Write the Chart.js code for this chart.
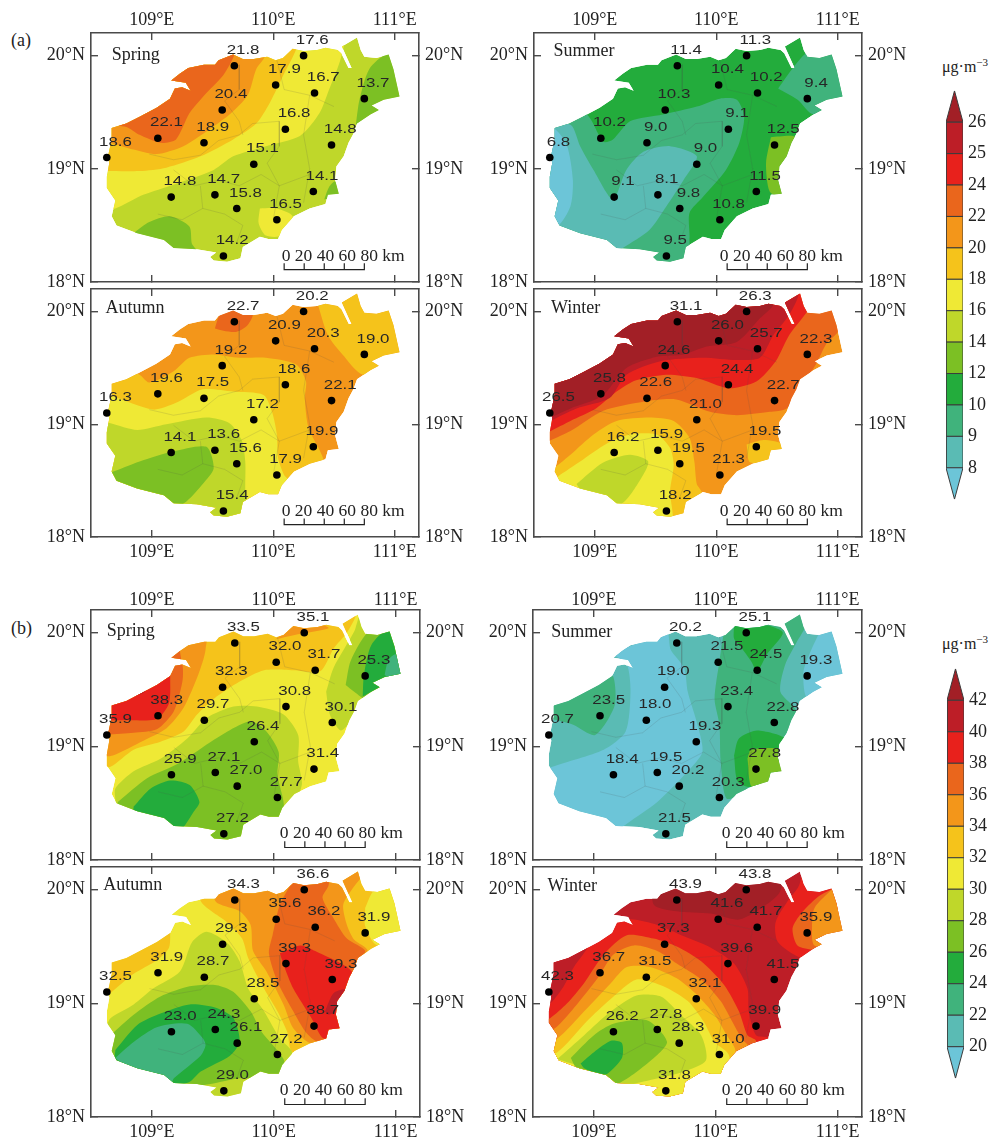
<!DOCTYPE html>
<html>
<head>
<meta charset="utf-8">
<title>Hainan seasonal concentration maps</title>
<script src="https://cdn.jsdelivr.net/npm/chart.js@4/dist/chart.umd.js"></script>
<style>
  html, body { margin: 0; padding: 0; background: #fff; }
  body { position: relative; width: 997px; height: 1142px; overflow: hidden; }
  canvas { position: absolute; }
  .note { position: absolute; font-family: "Liberation Serif", serif; color: #222; white-space: nowrap; }
  .note sup { font-size: 11px; line-height: 0; }
</style>
</head>
<body>
<div class="note" style="left:11px;top:30px;font-size:18px">(a)</div>
<div class="note" style="left:11px;top:618px;font-size:18px">(b)</div>
<div class="note" style="left:942px;top:58px;font-size:16px">μg·m<sup>−3</sup></div>
<div class="note" style="left:942px;top:635px;font-size:16px">μg·m<sup>−3</sup></div>
<script>
// band colours, low to high, same on both colour bars
const BAND_COLORS = ['#6CC5D8', '#5ABBB4', '#40B37C', '#23AC3C', '#7CC024', '#BFD72A', '#EFE935',
  '#F5C31B', '#F3961A', '#EA661C', '#E8211C', '#BD1E27', '#A21F26'];

const barLabelsA = ['8', '9', '10', '12', '14', '16', '18', '20', '22', '24', '25', '26'];
const barLabelsB = ['20', '22', '24', '26', '28', '30', '32', '34', '36', '38', '40', '42'];

const lonTicks = [109, 110, 111];
const latTicks = [18, 19, 20];
const scaleBarKm = [0, 20, 40, 60, 80];

// stations, same order in every value list
const stationLon = [109.68, 110.25, 110.02, 110.34, 110.75, 109.58, 110.10, 109.05, 109.43, 110.48, 108.63, 109.84, 109.16, 109.52, 109.70, 110.33, 110.03, 109.59];
const stationLat = [19.91, 20.00, 19.74, 19.67, 19.62, 19.52, 19.35, 19.27, 19.23, 19.21, 19.10, 19.04, 18.75, 18.77, 18.65, 18.80, 18.55, 18.23];

const valuesSpringA = ['21.8', '17.6', '17.9', '16.7', '13.7', '20.4', '16.8', '22.1', '18.9', '14.8', '18.6', '15.1', '14.8', '14.7', '15.8', '14.1', '16.5', '14.2'];
const valuesSummerA = ['11.4', '11.3', '10.4', '10.2', '9.4', '10.3', '9.1', '10.2', '9.0', '12.5', '6.8', '9.0', '9.1', '8.1', '9.8', '11.5', '10.8', '9.5'];
const valuesAutumnA = ['22.7', '20.2', '20.9', '20.3', '19.0', '19.2', '18.6', '19.6', '17.5', '22.1', '16.3', '17.2', '14.1', '13.6', '15.6', '19.9', '17.9', '15.4'];
const valuesWinterA = ['31.1', '26.3', '26.0', '25.7', '22.3', '24.6', '24.4', '25.8', '22.6', '22.7', '26.5', '21.0', '16.2', '15.9', '19.5', '19.5', '21.3', '18.2'];
const valuesSpringB = ['33.5', '35.1', '32.0', '31.7', '25.3', '32.3', '30.8', '38.3', '29.7', '30.1', '35.9', '26.4', '25.9', '27.1', '27.0', '31.4', '27.7', '27.2'];
const valuesSummerB = ['20.2', '25.1', '21.5', '24.5', '19.3', '19.0', '23.4', '23.5', '18.0', '22.8', '20.7', '19.3', '18.4', '19.5', '20.2', '27.8', '20.3', '21.5'];
const valuesAutumnB = ['34.3', '36.6', '35.6', '36.2', '31.9', '29.3', '39.3', '31.9', '28.7', '39.3', '32.5', '28.5', '23.0', '24.3', '26.1', '38.7', '27.2', '29.0'];
const valuesWinterB = ['43.9', '43.8', '41.6', '41.7', '35.9', '37.3', '39.6', '36.7', '31.5', '41.5', '42.3', '32.1', '26.2', '27.8', '28.3', '39.9', '31.0', '31.8'];

// coast of the island, lon/lat
const islandCoast = [[108.67,19.36],[108.79,19.40],[108.90,19.46],[109.04,19.54],[109.15,19.62],[109.19,19.71],[109.25,19.72],[109.32,19.69],[109.28,19.76],[109.16,19.78],[109.23,19.84],[109.30,19.89],[109.43,19.92],[109.52,19.92],[109.55,19.96],[109.67,20.01],[109.75,19.97],[109.84,19.97],[109.95,19.99],[110.02,19.96],[110.08,19.98],[110.16,20.06],[110.25,20.04],[110.36,20.05],[110.43,20.07],[110.53,20.05],[110.56,20.02],[110.62,19.89],[110.645,19.89],[110.59,20.02],[110.565,20.08],[110.69,20.16],[110.72,20.05],[110.75,19.99],[110.85,19.98],[110.95,20.01],[110.99,19.88],[111.04,19.64],[110.91,19.61],[110.81,19.56],[110.87,19.52],[110.80,19.48],[110.69,19.40],[110.66,19.31],[110.62,19.23],[110.58,19.11],[110.52,19.02],[110.51,18.90],[110.54,18.78],[110.45,18.77],[110.43,18.69],[110.30,18.65],[110.17,18.58],[110.07,18.46],[110.04,18.38],[109.96,18.38],[109.89,18.40],[109.75,18.31],[109.73,18.21],[109.62,18.18],[109.51,18.19],[109.48,18.22],[109.53,18.26],[109.37,18.29],[109.18,18.30],[109.10,18.37],[108.88,18.43],[108.71,18.50],[108.67,18.58],[108.70,18.72],[108.63,18.83],[108.63,18.93],[108.65,19.05],[108.64,19.11],[108.67,19.26]];

// faint county borders, same on every map
const countyLines = [
  [[108.98,19.13],[109.18,19.08],[109.40,19.12],[109.55,19.25],[109.72,19.30],[109.83,19.40],[110.05,19.42]],
  [[109.72,19.92],[109.72,19.70],[109.60,19.60],[109.72,19.42],[109.75,19.30]],
  [[110.03,19.96],[110.09,19.70],[110.30,19.65],[110.50,19.55]],
  [[109.18,18.99],[109.35,18.85],[109.55,18.90],[109.72,18.85],[109.90,18.95],[110.05,18.85],[110.30,18.95]],
  [[109.40,18.85],[109.42,18.65],[109.25,18.55],[109.05,18.60]],
  [[109.42,18.65],[109.60,18.60],[109.75,18.50],[109.70,18.35]],
  [[110.05,19.42],[110.05,19.20],[109.95,19.05],[110.05,18.85],[110.00,18.55]],
  [[110.30,19.65],[110.25,19.30],[110.30,19.00],[110.25,18.70]]
];

// contour regions: [band index, outline], painted in this order over the base band
const contoursSpringA = [
  [6, [[108.57,18.65],[108.70,18.65],[108.93,18.77],[109.18,18.86],[109.51,18.99],[109.67,19.11],[109.94,19.20],[110.22,19.29],[110.38,19.49],[110.46,19.70],[110.56,19.99],[110.57,20.20],[108.57,20.20]]],
  [7, [[108.57,18.98],[108.90,18.98],[109.12,19.01],[109.40,19.11],[109.67,19.26],[109.86,19.40],[109.97,19.58],[110.08,19.82],[110.19,20.06],[110.20,20.20],[108.57,20.20]]],
  [8, [[108.57,19.26],[108.85,19.17],[109.04,19.13],[109.26,19.20],[109.45,19.33],[109.64,19.48],[109.79,19.65],[109.86,19.88],[109.94,20.01],[109.94,20.20],[108.57,20.20]]],
  [9, [[108.57,19.39],[108.79,19.37],[108.90,19.30],[109.07,19.23],[109.20,19.26],[109.31,19.49],[109.45,19.67],[109.59,19.83],[109.68,20.01],[109.68,20.20],[108.57,20.20]]],
  [4, [[108.86,18.44],[108.98,18.53],[109.15,18.58],[109.31,18.49],[109.33,18.34],[109.37,18.27],[109.18,18.22],[108.85,18.34]]],
  [6, [[109.89,18.65],[110.03,18.65],[110.16,18.58],[110.07,18.41],[109.94,18.41],[109.88,18.52]]],
  [4, [[110.68,19.39],[110.71,19.61],[110.79,19.88],[110.94,20.02],[111.08,20.01],[111.08,19.61],[110.85,19.49]]],
  [4, [[110.42,18.73],[110.46,18.84],[110.51,18.89],[110.57,18.75]]]
];
const contoursSummerA = [
  [2, [[108.50,19.49],[108.92,19.49],[109.07,19.24],[109.15,19.26],[109.29,19.42],[109.56,19.48],[109.84,19.55],[110.03,19.62],[110.17,19.61],[110.23,19.46],[110.19,19.23],[110.08,18.99],[109.89,18.75],[109.78,18.61],[109.78,18.39],[109.75,18.14],[108.52,18.14]]],
  [1, [[108.52,19.40],[108.80,19.39],[108.88,19.20],[108.99,18.99],[109.15,18.73],[109.26,18.99],[109.40,19.15],[109.62,19.20],[109.84,19.11],[109.73,18.90],[109.59,18.67],[109.45,18.46],[109.23,18.30],[109.12,18.22],[108.52,18.22]]],
  [0, [[108.52,19.36],[108.66,19.36],[108.77,19.21],[108.82,18.90],[108.80,18.67],[108.69,18.49],[108.52,18.49]]],
  [2, [[110.51,19.71],[110.66,19.93],[110.77,20.04],[111.07,20.05],[111.07,19.58],[110.80,19.48],[110.67,19.61]]],
  [4, [[110.45,19.28],[110.65,19.28],[110.58,19.08],[110.55,18.75],[110.44,18.80],[110.41,19.05]]]
];
const contoursAutumnA = [
  [7, [[108.57,19.37],[108.67,19.37],[108.88,19.45],[108.98,19.37],[109.18,19.47],[109.31,19.59],[109.51,19.62],[109.72,19.59],[109.94,19.59],[110.19,19.53],[110.27,19.38],[110.26,19.23],[110.29,18.97],[110.41,18.70],[110.49,18.17],[108.57,18.11]]],
  [6, [[108.57,19.26],[108.67,19.25],[109.01,19.13],[109.20,19.19],[109.42,19.31],[109.67,19.29],[109.92,19.26],[109.99,19.11],[110.03,18.91],[110.04,18.70],[110.09,18.55],[110.15,18.47],[110.03,18.17],[108.57,18.11]]],
  [5, [[108.57,19.03],[108.66,19.01],[108.88,18.95],[109.12,19.00],[109.45,19.06],[109.64,19.01],[109.74,18.86],[109.77,18.67],[109.77,18.41],[109.79,18.11],[108.57,18.11]]],
  [4, [[108.66,18.57],[108.90,18.67],[109.18,18.76],[109.45,18.80],[109.51,18.61],[109.42,18.47],[109.29,18.32],[109.18,18.26],[108.85,18.34],[108.66,18.47]]],
  [9, [[109.52,19.85],[109.56,19.97],[109.67,20.03],[109.83,19.98],[109.79,19.88],[109.70,19.82],[109.59,19.83]]],
  [7, [[110.36,20.09],[110.45,19.79],[110.57,19.62],[110.74,19.44],[111.07,19.50],[111.07,20.18],[110.55,20.18]]]
];
const contoursWinterA = [
  [9, [[108.58,18.83],[108.80,18.94],[109.07,19.12],[109.40,19.20],[109.67,19.22],[109.95,19.11],[110.17,19.08],[110.44,19.11],[110.58,19.14],[110.69,19.32],[110.82,19.53],[110.91,19.72],[111.00,19.82],[111.07,20.20],[108.58,20.20]]],
  [10, [[108.58,18.91],[108.80,19.03],[109.01,19.14],[109.18,19.29],[109.34,19.39],[109.59,19.44],[109.84,19.41],[110.10,19.32],[110.33,19.38],[110.49,19.56],[110.60,19.79],[110.77,20.04],[110.77,20.20],[108.58,20.20]]],
  [11, [[108.58,19.00],[108.85,19.14],[109.12,19.23],[109.26,19.44],[109.54,19.56],[109.89,19.59],[110.17,19.57],[110.36,19.59],[110.47,19.79],[110.60,19.97],[110.67,20.12],[110.67,20.20],[108.58,20.20]]],
  [12, [[108.58,19.03],[108.80,19.14],[109.06,19.25],[109.26,19.50],[109.51,19.60],[109.73,19.62],[109.92,19.69],[110.17,19.73],[110.36,19.94],[110.47,20.06],[110.44,20.20],[108.58,20.20]]],
  [7, [[108.63,18.58],[108.80,18.73],[108.99,18.91],[109.18,19.03],[109.45,19.06],[109.65,19.03],[109.78,18.88],[109.82,18.67],[109.84,18.47],[109.88,18.39],[109.73,18.11],[108.63,18.11]]],
  [6, [[108.63,18.49],[108.70,18.54],[108.88,18.67],[109.10,18.83],[109.29,18.91],[109.51,18.91],[109.62,18.79],[109.65,18.64],[109.62,18.41],[109.62,18.11],[108.63,18.11]]],
  [5, [[108.85,18.47],[109.07,18.66],[109.29,18.73],[109.44,18.67],[109.37,18.50],[109.21,18.29],[108.93,18.35]]],
  [7, [[110.25,18.82],[110.39,18.86],[110.56,18.82],[110.56,18.70],[110.28,18.66]]]
];
const contoursSpringB = [
  [7, [[108.57,18.84],[108.66,18.82],[108.85,18.97],[109.07,19.04],[109.26,19.13],[109.37,19.28],[109.51,19.42],[109.72,19.57],[109.92,19.67],[110.16,19.67],[110.38,19.66],[110.49,19.86],[110.60,20.00],[110.67,20.14],[110.66,20.20],[108.57,20.20]]],
  [8, [[108.57,18.91],[108.68,18.92],[108.93,19.05],[109.12,19.16],[109.26,19.34],[109.38,19.63],[109.44,19.85],[109.44,20.20],[108.57,20.20]]],
  [9, [[108.57,19.10],[108.85,19.12],[109.04,19.15],[109.18,19.31],[109.25,19.57],[109.25,19.72],[109.12,20.20],[108.57,20.20]]],
  [10, [[108.57,19.23],[108.85,19.23],[109.04,19.24],[109.14,19.38],[109.15,19.61],[109.15,20.20],[108.57,20.20]]],
  [11, [[108.81,19.43],[108.93,19.47],[109.02,19.59],[108.90,19.54]]],
  [8, [[110.01,19.94],[110.16,20.06],[110.25,20.07],[110.40,20.07],[110.45,20.04],[110.22,19.99]]],
  [5, [[108.70,18.53],[108.70,18.63],[108.85,18.78],[109.07,18.89],[109.29,19.07],[109.45,19.25],[109.67,19.35],[109.86,19.35],[110.08,19.28],[110.20,19.10],[110.20,18.87],[110.23,18.66],[110.11,18.39],[109.67,18.13],[108.68,18.22]]],
  [4, [[108.72,18.51],[108.96,18.72],[109.20,18.84],[109.40,18.98],[109.62,19.13],[109.81,19.22],[109.94,19.13],[110.04,18.95],[110.03,18.75],[110.08,18.51],[110.07,18.37],[109.73,18.16],[109.40,18.13],[108.71,18.39]]],
  [3, [[108.85,18.47],[108.99,18.63],[109.15,18.70],[109.31,18.66],[109.39,18.51],[109.34,18.42],[109.25,18.28],[109.16,18.25],[108.85,18.37]]],
  [5, [[110.43,19.48],[110.49,19.69],[110.66,20.01],[110.73,20.19],[111.08,20.19],[111.08,19.63],[110.66,19.25],[110.55,19.14],[110.46,19.28]]],
  [4, [[110.59,19.54],[110.63,19.75],[110.77,20.00],[110.94,20.04],[111.08,19.63],[110.77,19.41],[110.66,19.48]]],
  [3, [[110.73,19.44],[110.74,19.63],[110.80,19.89],[110.94,20.03],[111.08,19.92],[111.08,19.66],[110.85,19.51]]],
  [2, [[110.91,19.63],[110.94,19.76],[111.00,19.81],[111.08,19.64],[110.96,19.59]]]
];
const contoursSummerB = [
  [0, [[109.14,19.82],[109.27,19.72],[109.30,19.48],[109.26,19.13],[109.08,18.97],[108.66,18.82],[108.53,18.75],[108.53,18.22],[109.16,18.25],[109.27,18.32],[109.52,18.51],[109.77,18.78],[109.89,18.95],[109.85,19.19],[109.77,19.48],[109.74,19.69],[109.63,19.85],[109.60,20.01],[109.46,19.95]]],
  [0, [[110.85,20.00],[110.97,20.04],[111.07,19.66],[110.83,19.48],[110.74,19.44],[110.72,19.66],[110.78,19.84]]],
  [2, [[108.62,19.25],[108.66,19.35],[108.81,19.44],[109.00,19.56],[109.15,19.63],[109.17,19.36],[109.01,19.10],[108.83,19.19]]],
  [2, [[110.07,20.03],[110.03,19.75],[109.99,19.42],[110.03,19.19],[110.04,18.87],[110.09,18.54],[110.26,18.63],[110.57,19.10],[110.66,19.31],[110.53,19.48],[110.57,19.72],[110.66,19.91],[110.74,20.07],[110.70,20.17],[110.57,20.10],[110.40,20.13],[110.15,20.07]]],
  [3, [[110.15,20.06],[110.40,20.07],[110.55,20.00],[110.42,19.81],[110.34,19.66],[110.29,19.75],[110.20,19.88],[110.15,19.95]]],
  [3, [[110.15,18.92],[110.19,19.07],[110.34,19.14],[110.57,19.07],[110.52,18.95],[110.51,18.78],[110.30,18.64],[110.18,18.69]]],
  [4, [[110.26,18.89],[110.29,18.97],[110.53,18.97],[110.55,18.78],[110.30,18.64]]]
];
const contoursAutumnB = [
  [7, [[108.60,19.04],[108.67,19.10],[108.85,19.26],[109.04,19.38],[109.14,19.49],[109.15,19.65],[109.15,19.78],[108.60,19.78]]],
  [7, [[109.40,20.19],[109.40,19.90],[109.62,19.71],[109.74,19.57],[109.79,19.40],[109.92,19.13],[110.03,18.93],[110.11,18.75],[110.16,18.57],[111.12,18.57],[111.12,20.19]]],
  [8, [[109.52,20.19],[109.52,19.90],[109.72,19.81],[109.81,19.69],[109.83,19.46],[109.94,19.28],[110.08,18.99],[110.16,18.78],[110.30,18.65],[110.55,18.66],[110.77,19.46],[110.66,19.56],[110.60,19.69],[110.57,19.87],[110.66,20.03],[110.73,20.13],[110.73,20.19]]],
  [9, [[110.14,20.19],[110.14,20.06],[110.05,19.87],[109.99,19.60],[109.96,19.44],[110.03,19.19],[110.16,18.93],[110.26,18.75],[110.36,18.66],[110.55,18.66],[110.66,19.31],[110.75,19.46],[110.60,19.57],[110.49,19.75],[110.40,19.93],[110.45,20.04],[110.45,20.19]]],
  [10, [[110.05,19.44],[110.22,19.51],[110.34,19.46],[110.64,19.28],[110.60,19.07],[110.55,18.75],[110.41,18.69],[110.31,18.87],[110.16,19.13],[110.08,19.34]]],
  [11, [[110.42,18.93],[110.49,19.09],[110.59,19.12],[110.51,18.93],[110.45,18.90]]],
  [6, [[110.75,19.84],[110.82,19.99],[110.96,20.04],[111.08,19.65],[110.85,19.51],[110.75,19.68]]],
  [5, [[108.63,18.81],[108.66,18.87],[108.85,18.99],[109.01,19.13],[109.23,19.28],[109.33,19.54],[109.45,19.63],[109.62,19.53],[109.72,19.37],[109.79,19.13],[109.92,18.93],[110.05,18.69],[110.15,18.57],[110.08,18.40],[109.75,18.13],[109.48,18.13],[108.68,18.25]]],
  [4, [[108.66,18.72],[108.85,18.90],[109.07,19.06],[109.31,19.15],[109.53,19.16],[109.67,19.10],[109.81,18.93],[109.90,18.75],[110.08,18.51],[110.08,18.38],[109.94,18.34],[109.72,18.34],[109.48,18.29],[109.15,18.25],[108.66,18.49]]],
  [3, [[108.70,18.59],[108.88,18.81],[109.07,18.91],[109.31,18.99],[109.53,18.96],[109.67,18.87],[109.72,18.66],[109.64,18.54],[109.40,18.40],[109.31,18.31],[109.15,18.27],[108.70,18.49]]],
  [2, [[108.70,18.52],[108.85,18.66],[109.04,18.79],[109.29,18.82],[109.42,18.69],[109.44,18.63],[109.40,18.54],[109.18,18.34],[109.15,18.28],[108.85,18.40]]]
];
const contoursWinterB = [
  [12, [[109.49,20.19],[109.49,19.87],[109.68,19.81],[109.96,19.79],[110.20,19.74],[110.52,19.97],[110.52,20.19]]],
  [10, [[108.53,19.62],[109.00,19.62],[109.16,19.71],[109.31,19.74],[109.52,19.69],[109.74,19.59],[109.96,19.49],[110.15,19.35],[110.26,19.13],[110.27,18.93],[110.33,18.72],[110.44,18.69],[110.45,18.00],[108.53,18.00]]],
  [9, [[108.53,18.84],[108.64,18.87],[108.78,19.00],[108.92,19.18],[109.08,19.43],[109.27,19.60],[109.49,19.57],[109.68,19.50],[109.88,19.37],[110.07,19.16],[110.19,18.93],[110.26,18.72],[110.33,18.67],[110.34,18.00],[108.53,18.00]]],
  [8, [[108.53,18.72],[108.68,18.78],[108.86,18.99],[109.03,19.22],[109.16,19.43],[109.33,19.51],[109.52,19.46],[109.68,19.35],[109.88,19.21],[110.04,19.02],[110.15,18.81],[110.22,18.68],[110.27,18.62],[110.27,18.00],[108.53,18.00]]],
  [7, [[108.53,18.63],[108.70,18.69],[108.92,18.93],[109.14,19.18],[109.27,19.32],[109.46,19.32],[109.68,19.22],[109.85,19.07],[109.99,18.90],[110.09,18.72],[110.16,18.59],[110.16,18.00],[108.53,18.00]]],
  [6, [[108.53,18.54],[108.70,18.57],[108.94,18.84],[109.14,19.04],[109.35,19.21],[109.57,19.15],[109.77,19.02],[109.90,18.84],[109.99,18.66],[110.11,18.54],[110.11,18.00],[108.53,18.00]]],
  [5, [[108.70,18.51],[108.92,18.72],[109.14,18.93],[109.35,19.07],[109.55,19.06],[109.71,18.90],[109.88,18.72],[109.92,18.50],[109.74,18.40],[109.44,18.32],[109.19,18.28],[108.92,18.43]]],
  [4, [[108.81,18.52],[109.00,18.72],[109.16,18.82],[109.44,18.85],[109.60,18.66],[109.46,18.49],[109.19,18.29],[109.08,18.35],[108.86,18.43]]],
  [3, [[108.89,18.47],[109.00,18.57],[109.14,18.67],[109.23,18.65],[109.23,18.52],[109.11,18.38],[109.05,18.37],[108.92,18.43]]],
  [10, [[110.72,20.19],[110.68,20.03],[110.59,19.90],[110.49,19.71],[110.51,19.54],[110.71,19.40],[110.83,19.51],[111.08,20.01],[111.08,20.19]]],
  [9, [[110.96,20.01],[110.83,19.93],[110.70,19.79],[110.63,19.66],[110.67,19.51],[110.81,19.47],[111.08,19.46],[111.08,20.01]]],
  [8, [[110.96,20.01],[110.81,19.84],[110.79,19.68],[110.81,19.51],[111.08,19.51],[111.08,20.01]]],
  [11, [[108.53,18.99],[108.63,18.99],[108.74,19.13],[108.83,19.31],[108.93,19.46],[109.00,19.59],[108.81,19.59],[108.53,19.43]]]
];

const PANELS = [
  { season: 'Spring', values: valuesSpringA, contours: contoursSpringA, base: 5, left: 91, top: 33, w: 328, h: 249, lonLabel: 'top', labelPad: 9, seasonAt: [108.67, 20.00], scaleTextLon: 110.07 },
  { season: 'Summer', values: valuesSummerA, contours: contoursSummerA, base: 3, left: 534, top: 33, w: 328, h: 249, lonLabel: 'top', labelPad: 9, seasonAt: [108.66, 20.04], scaleTextLon: 110.03 },
  { season: 'Autumn', values: valuesAutumnA, contours: contoursAutumnA, base: 8, left: 91, top: 289, w: 328, h: 248, lonLabel: 'bottom', labelPad: 11, seasonAt: [108.62, 20.03], scaleTextLon: 110.07 },
  { season: 'Winter', values: valuesWinterA, contours: contoursWinterA, base: 8, left: 534, top: 289, w: 328, h: 248, lonLabel: 'bottom', labelPad: 11, seasonAt: [108.64, 20.03], scaleTextLon: 110.03 },
  { season: 'Spring', values: valuesSpringB, contours: contoursSpringB, base: 6, left: 91, top: 610, w: 329, h: 250, lonLabel: 'top', labelPad: 6, seasonAt: [108.63, 20.01], scaleTextLon: 110.05 },
  { season: 'Summer', values: valuesSummerB, contours: contoursSummerB, base: 1, left: 533, top: 610, w: 329, h: 250, lonLabel: 'top', labelPad: 6, seasonAt: [108.65, 20.00], scaleTextLon: 110.05 },
  { season: 'Autumn', values: valuesAutumnB, contours: contoursAutumnB, base: 6, left: 91, top: 867, w: 329, h: 250, lonLabel: 'bottom', labelPad: 11, seasonAt: [108.60, 20.04], scaleTextLon: 110.05 },
  { season: 'Winter', values: valuesWinterB, contours: contoursWinterB, base: 11, left: 533, top: 867, w: 329, h: 250, lonLabel: 'bottom', labelPad: 11, seasonAt: [108.62, 20.03], scaleTextLon: 110.05 }
];

const SERIF = '"Liberation Serif", serif';
const FRAME = '#4a4a4a';
const MARGIN_X = 60, MARGIN_Y = 30;
const KM_TO_LON = 0.00825;

function toPoints(pairs) {
  return pairs.map(p => ({ x: p[0], y: p[1] }));
}

function makeCanvas(left, top, w, h) {
  const c = document.createElement('canvas');
  c.width = w; c.height = h;
  c.style.left = left + 'px'; c.style.top = top + 'px';
  c.style.width = w + 'px'; c.style.height = h + 'px';
  document.body.appendChild(c);
  return c;
}

// keeps the filled bands inside the coast, then writes the texts on top
const mapPlugin = {
  id: 'mapPlugin',
  beforeDatasetsDraw(chart) {
    const { ctx, scales } = chart;
    ctx.save();
    ctx.beginPath();
    islandCoast.forEach((p, i) => {
      const x = scales.x.getPixelForValue(p[0]), y = scales.y.getPixelForValue(p[1]);
      if (i === 0) ctx.moveTo(x, y); else ctx.lineTo(x, y);
    });
    ctx.closePath();
    ctx.clip();
  },
  afterDatasetDraw(chart, args) {
    const lastRegion = chart.data.datasets.filter(d => d.isRegion).length - 1;
    if (args.index === lastRegion) chart.ctx.restore();
  },
  afterDatasetsDraw(chart, args, opts) {
    const { ctx, scales } = chart;
    const panel = opts.panel;
    ctx.save();
    ctx.textBaseline = 'middle';
    ctx.fillStyle = '#262626';
    ctx.font = '12.5px "Liberation Sans", sans-serif';
    ctx.textAlign = 'center';
    panel.values.forEach((v, i) => {
      ctx.save();
      ctx.translate(scales.x.getPixelForValue(stationLon[i]) + 8.7, scales.y.getPixelForValue(stationLat[i]) - 15.3);
      ctx.scale(1.35, 1);
      ctx.fillText(v, 0, 0);
      ctx.restore();
    });
    ctx.font = '18px ' + SERIF;
    ctx.textAlign = 'left';
    ctx.fillStyle = '#222';
    ctx.fillText(panel.season, scales.x.getPixelForValue(panel.seasonAt[0]), scales.y.getPixelForValue(panel.seasonAt[1]));
    ctx.font = '17.5px ' + SERIF;
    const kmText = scaleBarKm.join(' ') + ' km';
    ctx.fillText(kmText, scales.x.getPixelForValue(panel.scaleTextLon), scales.y.getPixelForValue(18.23));
    ctx.restore();
  }
};

function axis(position, showLabels, ticksList, suffix, labelPad) {
  const horizontal = position === 'top' || position === 'bottom';
  return {
    type: 'linear',
    position,
    min: horizontal ? 108.5 : 18,
    max: horizontal ? 111.2 : 20.2,
    afterBuildTicks: s => { s.ticks = ticksList.map(v => ({ value: v })); },
    afterFit: s => {
      if (horizontal) s.height = MARGIN_Y; else s.width = MARGIN_X;
    },
    border: { display: true, color: FRAME, width: 1.6 },
    grid: { drawOnChartArea: false, drawTicks: true, tickLength: -7, color: FRAME, lineWidth: 1.4 },
    ticks: {
      display: showLabels,
      autoSkip: false,
      maxRotation: 0,
      padding: labelPad,
      color: '#222',
      font: { family: SERIF, size: 18 },
      callback: v => v + suffix
    }
  };
}

function drawPanel(panel) {
  const canvas = makeCanvas(panel.left - MARGIN_X, panel.top - MARGIN_Y, panel.w + MARGIN_X * 2, panel.h + MARGIN_Y * 2);
  const regionDefaults = { showLine: true, pointRadius: 0, borderWidth: 0, isRegion: true };

  const datasets = [];
  datasets.push({ ...regionDefaults, data: toPoints(islandCoast), fill: 'shape', tension: 0, backgroundColor: BAND_COLORS[panel.base] });
  panel.contours.forEach(c => {
    const outline = c[1].concat([c[1][0]]);
    datasets.push({ ...regionDefaults, data: toPoints(outline), fill: 'shape', tension: 0.25, backgroundColor: BAND_COLORS[c[0]] });
  });
  countyLines.forEach(line => {
    datasets.push({ ...regionDefaults, data: toPoints(line), fill: false, tension: 0, borderWidth: 0.7, borderColor: 'rgba(80,80,80,0.22)' });
  });

  // scale bar, from the km list
  const barPoints = [];
  scaleBarKm.forEach(km => {
    const x = 110.09 + km * KM_TO_LON;
    barPoints.push({ x, y: 18.11 }, { x, y: 18.165 }, { x, y: 18.11 });
  });
  datasets.push({ data: barPoints, showLine: true, pointRadius: 0, borderWidth: 1.2, borderColor: '#222', fill: false, tension: 0 });

  datasets.push({
    data: stationLon.map((lon, i) => ({ x: lon, y: stationLat[i] })),
    showLine: false, pointRadius: 3.8, pointBackgroundColor: '#000', pointBorderWidth: 0
  });

  datasets.forEach((d, i) => { d.order = datasets.length - i; });

  new Chart(canvas, {
    type: 'scatter',
    data: { datasets },
    options: {
      responsive: false,
      animation: false,
      events: [],
      layout: { padding: 0 },
      plugins: { legend: { display: false }, tooltip: { enabled: false }, mapPlugin: { panel } },
      scales: {
        x: axis(panel.lonLabel, true, lonTicks, '°E', panel.labelPad),
        x2: axis(panel.lonLabel === 'top' ? 'bottom' : 'top', false, lonTicks, '°E', 0),
        y: axis('left', true, latTicks, '°N', 13),
        y2: axis('right', true, latTicks, '°N', 13)
      }
    },
    plugins: [mapPlugin]
  });
}

function drawColorBar(labels, left, tipTop, tipBottom) {
  const padY = 12, padL = 6;
  const canvas = makeCanvas(left - padL, tipTop - padY, 997 - left + padL, tipBottom - tipTop + padY * 2);
  const outline = { showLine: true, pointRadius: 0, borderWidth: 1, borderColor: '#3c3c3c', fill: 'shape', tension: 0 };
  const datasets = [];
  const n = labels.length - 1;
  // lower tip, bands, upper tip
  datasets.push({ ...outline, backgroundColor: BAND_COLORS[0], data: [{ x: 0, y: 0 }, { x: 1, y: 0 }, { x: 0.5, y: -1 }, { x: 0, y: 0 }] });
  for (let i = 0; i < n; i++) {
    datasets.push({ ...outline, backgroundColor: BAND_COLORS[i + 1], data: [{ x: 0, y: i }, { x: 1, y: i }, { x: 1, y: i + 1 }, { x: 0, y: i + 1 }, { x: 0, y: i }] });
  }
  datasets.push({ ...outline, backgroundColor: BAND_COLORS[n + 1], data: [{ x: 0, y: n }, { x: 1, y: n }, { x: 0.5, y: n + 1 }, { x: 0, y: n }] });

  new Chart(canvas, {
    type: 'scatter',
    data: { datasets },
    options: {
      responsive: false,
      animation: false,
      events: [],
      layout: { padding: { left: padL, top: padY, bottom: padY, right: 0 } },
      plugins: { legend: { display: false }, tooltip: { enabled: false } },
      scales: {
        x: { type: 'linear', min: 0, max: 1, display: false },
        y: {
          type: 'linear', position: 'right', min: -1, max: n + 1,
          afterBuildTicks: s => { s.ticks = labels.map((_, i) => ({ value: i })); },
          afterFit: s => { s.width = 997 - left - 17; },
          border: { display: false },
          grid: { display: false, drawTicks: false },
          ticks: {
            autoSkip: false, padding: 5, color: '#222',
            font: { family: SERIF, size: 18 },
            callback: v => labels[v]
          }
        }
      }
    }
  });
}

PANELS.forEach(drawPanel);
drawColorBar(barLabelsA, 946, 87, 503);
drawColorBar(barLabelsB, 947, 665, 1082);
</script>
</body>
</html>
